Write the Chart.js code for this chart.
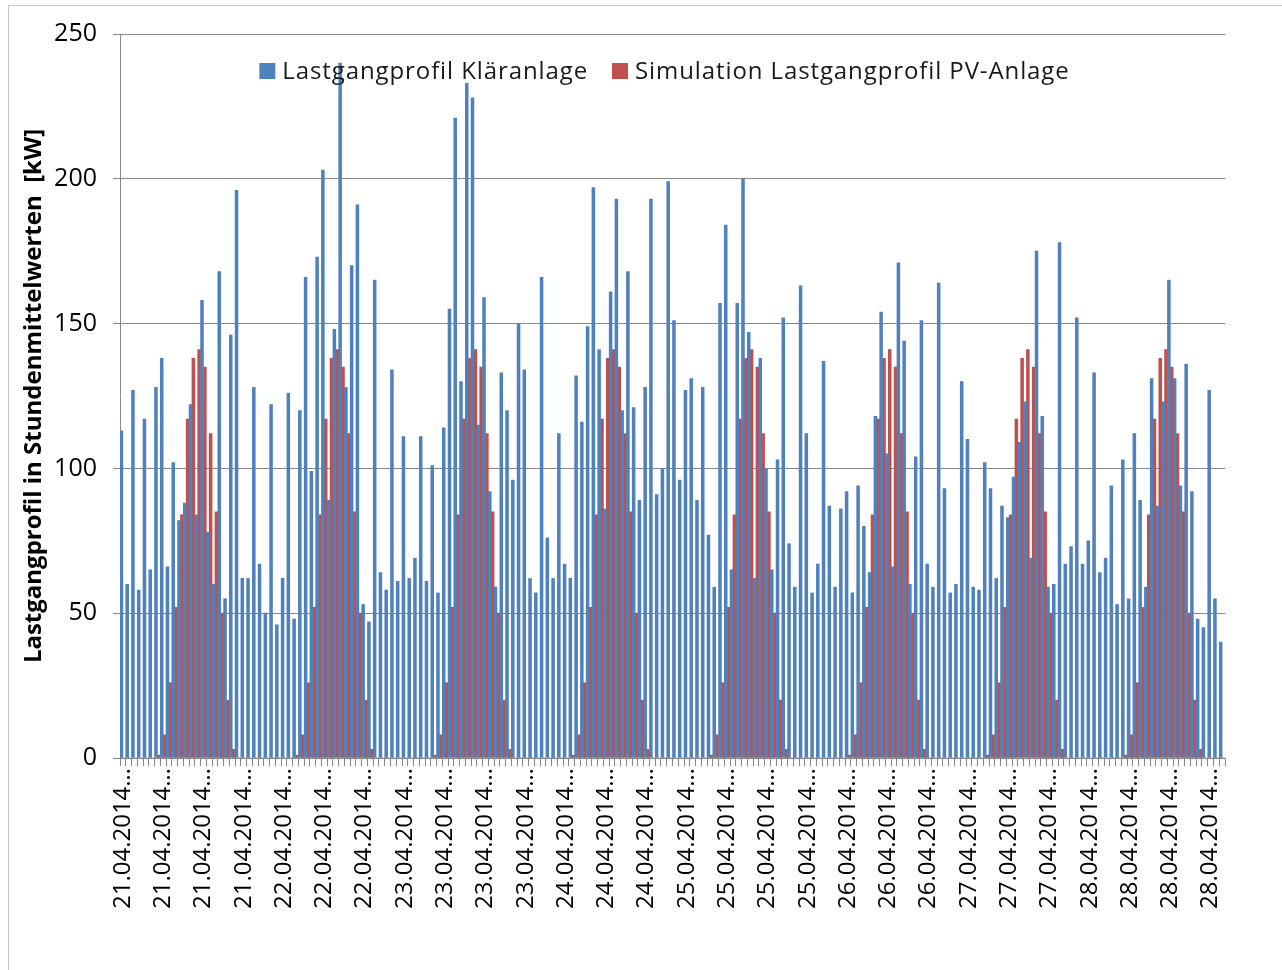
<!DOCTYPE html>
<html>
<head>
<meta charset="utf-8">
<script src="https://cdn.jsdelivr.net/npm/chart.js@4.4.1/dist/chart.umd.min.js"></script>
<style>
  html, body { margin: 0; padding: 0; background: #fff; }
  #wrap { position: relative; width: 1282px; height: 970px; overflow: hidden; }
  #rahmen { position: absolute; left: 8px; top: 5px; width: 1300px; height: 1000px;
            border-left: 1px solid #c6c6c6; border-top: 1px solid #c6c6c6; }
  canvas { position: absolute; left: 0; top: 0; }
</style>
</head>
<body>
<div id="wrap">
  <div id="rahmen"></div>
  <canvas id="chart-lastgang" width="1282" height="970"></canvas>
</div>
<script>
// Tage und Stunden der Kategorieachse
const tage = ['21.04.2014', '22.04.2014', '23.04.2014', '24.04.2014',
              '25.04.2014', '26.04.2014', '27.04.2014', '28.04.2014']
const stunden = ['00', '01', '02', '03', '04', '05', '06', '07', '08', '09', '10', '11',
                 '12', '13', '14', '15', '16', '17', '18', '19', '20', '21', '22', '23']

// Lastgangprofil Kläranlage [kW], Stundenmittelwerte je Tag
const klaeranlage21 = [113, 60, 127, 58, 117, 65, 128, 138, 66, 102, 82, 88, 122, 84, 158, 78, 60, 168, 55, 146, 196, 62, 62, 128]
const klaeranlage22 = [67, 50, 122, 46, 62, 126, 48, 120, 166, 99, 173, 203, 89, 148, 240, 128, 170, 191, 53, 47, 165, 64, 58, 134]
const klaeranlage23 = [61, 111, 62, 69, 111, 61, 101, 57, 114, 155, 221, 130, 233, 228, 115, 159, 92, 59, 133, 120, 96, 150, 134, 62]
const klaeranlage24 = [57, 166, 76, 62, 112, 67, 62, 132, 116, 149, 197, 141, 86, 161, 193, 120, 168, 121, 89, 128, 193, 91, 100, 199]
const klaeranlage25 = [151, 96, 127, 131, 89, 128, 77, 59, 157, 184, 65, 157, 200, 147, 62, 138, 100, 65, 103, 152, 74, 59, 163, 112]
const klaeranlage26 = [57, 67, 137, 87, 59, 86, 92, 57, 94, 80, 64, 118, 154, 105, 66, 171, 144, 60, 104, 151, 67, 59, 164, 93]
const klaeranlage27 = [57, 60, 130, 110, 59, 58, 102, 93, 62, 87, 83, 97, 109, 123, 69, 175, 118, 59, 60, 178, 67, 73, 152, 67]
const klaeranlage28 = [75, 133, 64, 69, 94, 53, 103, 55, 112, 89, 59, 131, 87, 123, 165, 131, 94, 136, 92, 48, 45, 127, 55, 40]

// Simulation Lastgangprofil PV-Anlage [kW]
const pv21 = [0, 0, 0, 0, 0, 0, 1, 8, 26, 52, 84, 117, 138, 141, 135, 112, 85, 50, 20, 3, 0, 0, 0, 0]
const pv22 = [0, 0, 0, 0, 0, 0, 1, 8, 26, 52, 84, 117, 138, 141, 135, 112, 85, 50, 20, 3, 0, 0, 0, 0]
const pv23 = [0, 0, 0, 0, 0, 0, 1, 8, 26, 52, 84, 117, 138, 141, 135, 112, 85, 50, 20, 3, 0, 0, 0, 0]
const pv24 = [0, 0, 0, 0, 0, 0, 1, 8, 26, 52, 84, 117, 138, 141, 135, 112, 85, 50, 20, 3, 0, 0, 0, 0]
const pv25 = [0, 0, 0, 0, 0, 0, 1, 8, 26, 52, 84, 117, 138, 141, 135, 112, 85, 50, 20, 3, 0, 0, 0, 0]
const pv26 = [0, 0, 0, 0, 0, 0, 1, 8, 26, 52, 84, 117, 138, 141, 135, 112, 85, 50, 20, 3, 0, 0, 0, 0]
const pv27 = [0, 0, 0, 0, 0, 0, 1, 8, 26, 52, 84, 117, 138, 141, 135, 112, 85, 50, 20, 3, 0, 0, 0, 0]
const pv28 = [0, 0, 0, 0, 0, 0, 1, 8, 26, 52, 84, 117, 138, 141, 135, 112, 85, 50, 20, 3, 0, 0, 0, 0]

const yTicks = [0, 50, 100, 150, 200, 250]

const labels = tage.flatMap(tag => stunden.map(h => `${tag} ${h}:00`))
const klaeranlage = [klaeranlage21, klaeranlage22, klaeranlage23, klaeranlage24,
                     klaeranlage25, klaeranlage26, klaeranlage27, klaeranlage28].flat()
const pvAnlage = [pv21, pv22, pv23, pv24, pv25, pv26, pv27, pv28].flat()

const SCHRIFT = '"Open Sans", Lato, sans-serif'
const GRAU = '#878787'

// Legende sitzt in Excel innerhalb der Zeichenfläche
const legendeImDiagramm = {
  id: 'legendeImDiagramm',
  afterDatasetsDraw(chart) {
    const ctx = chart.ctx
    const area = chart.chartArea
    ctx.save()
    ctx.font = `24px ${SCHRIFT}`
    ctx.letterSpacing = '0.9px'
    ctx.textBaseline = 'middle'
    const box = 16, luecke = 7, abstand = 24
    const eintraege = chart.data.datasets.map(ds => ({
      text: ds.label,
      farbe: ds.backgroundColor,
      breite: ctx.measureText(ds.label).width
    }))
    const gesamt = eintraege.reduce((s, e) => s + box + luecke + e.breite, 0) + abstand * (eintraege.length - 1)
    let x = (area.left + area.right) / 2 - 8 - gesamt / 2
    const y = area.top + 37
    eintraege.forEach(e => {
      ctx.fillStyle = e.farbe
      ctx.fillRect(x, y - box / 2, box, box)
      x += box + luecke
      ctx.fillStyle = '#1a1a1a'
      ctx.fillText(e.text, x, y + 1)
      x += e.breite + abstand
    })
    ctx.restore()
  }
}

const ctx = document.getElementById('chart-lastgang').getContext('2d')

new Chart(ctx, {
  type: 'bar',
  data: {
    labels,
    datasets: [
      {
        label: 'Lastgangprofil Kläranlage',
        data: klaeranlage,
        backgroundColor: '#4F81BD',
        categoryPercentage: 1.0,
        barPercentage: 1.0
      },
      {
        label: 'Simulation Lastgangprofil PV-Anlage',
        data: pvAnlage,
        backgroundColor: '#C0504D',
        categoryPercentage: 1.0,
        barPercentage: 1.0
      }
    ]
  },
  options: {
    responsive: false,
    animation: false,
    layout: {
      padding: { left: 18, top: 34, right: 57, bottom: 0 }
    },
    plugins: {
      legend: { display: false },
      tooltip: { enabled: false }
    },
    scales: {
      x: {
        offset: true,
        grid: {
          offset: true,
          drawOnChartArea: false,
          drawTicks: true,
          tickLength: 8,
          color: GRAU
        },
        border: { color: GRAU },
        ticks: {
          autoSkip: false,
          maxRotation: 90,
          minRotation: 90,
          padding: 2,
          color: '#000',
          font: { family: SCHRIFT, size: 24 },
          callback: function (value, index) {
            return index % 7 === 0 ? this.getLabelForValue(value).slice(0, 10) + '…' : ''
          }
        },
        afterFit: (scale) => { scale.height = 212 }
      },
      y: {
        min: 0,
        max: 250,
        afterBuildTicks: (scale) => { scale.ticks = yTicks.map(v => ({ value: v })) },
        grid: { color: GRAU, tickLength: 7 },
        border: { color: GRAU },
        ticks: {
          padding: 16,
          color: '#000',
          font: { family: SCHRIFT, size: 25 }
        },
        title: {
          display: true,
          text: 'Lastgangprofil in Stundenmittelwerten  [kW]',
          color: '#000',
          font: { family: SCHRIFT, size: 24, weight: 'bold' },
          padding: { top: 2, bottom: 4 }
        },
        afterFit: (scale) => { scale.width = 102 }
      }
    }
  },
  plugins: [legendeImDiagramm]
})
</script>
</body>
</html>
